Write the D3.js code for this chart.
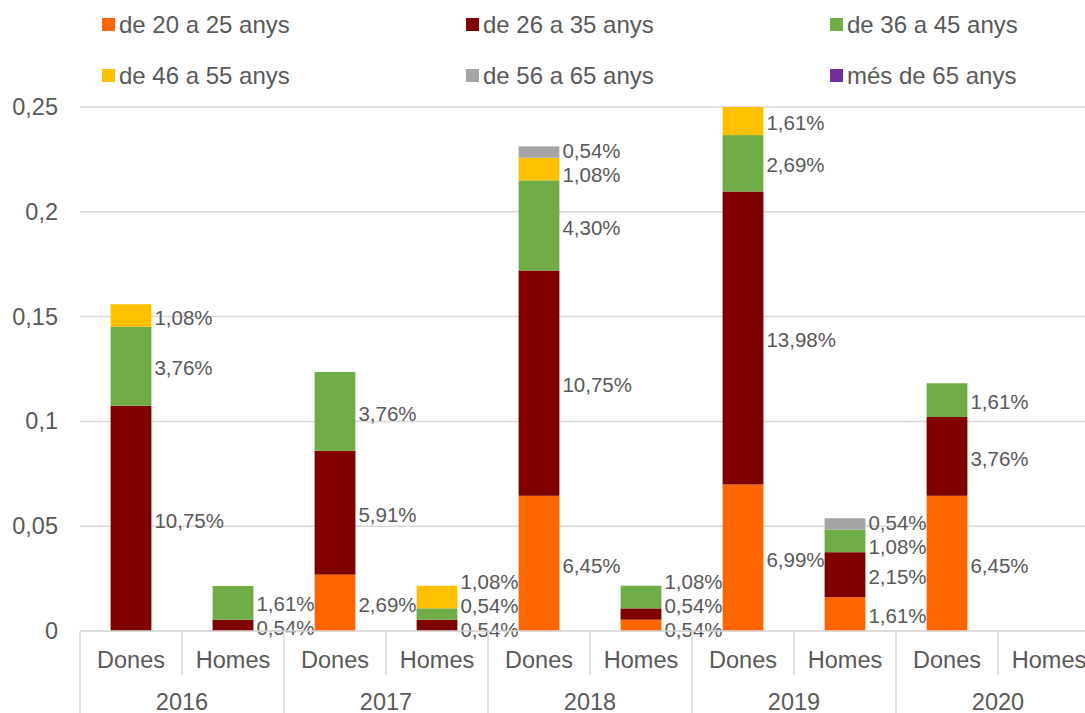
<!DOCTYPE html>
<html>
<head>
<meta charset="utf-8">
<script src="https://cdn.jsdelivr.net/npm/d3@7"></script>
<style>
  html, body { margin: 0; padding: 0; background: #fff; overflow: hidden; }
  svg { display: block; }
  text { font-family: "Liberation Sans", Arial, sans-serif; fill: #595959; }
</style>
</head>
<body>
<div id="chart-area"></div>
<script>
// Data (values in %)
const genders = ["Dones", "Homes"];
const years = ["2016", "2017", "2018", "2019", "2020"];
const ageGroups = ["de 20 a 25 anys", "de 26 a 35 anys", "de 36 a 45 anys",
                   "de 46 a 55 anys", "de 56 a 65 anys", "més de 65 anys"];
const colors = ["#FF6600", "#800000", "#70AD47", "#FFC000", "#A5A5A5", "#7030A0"];

// one value per bar: 2016 Dones, 2016 Homes, 2017 Dones, ...
const age20_25 = [0, 0, 2.69, 0, 6.45, 0.54, 6.99, 1.61, 6.45, 0];
const age26_35 = [10.75, 0.54, 5.91, 0.54, 10.75, 0.54, 13.98, 2.15, 3.76, 0];
const age36_45 = [3.76, 1.61, 3.76, 0.54, 4.30, 1.08, 2.69, 1.08, 1.61, 0];
const age46_55 = [1.08, 0, 0, 1.08, 1.08, 0, 1.61, 0, 0, 0];
const age56_65 = [0, 0, 0, 0, 0.54, 0, 0, 0.54, 0, 0];
const age65 = [0, 0, 0, 0, 0, 0, 0, 0, 0, 0];
const yTicks = [0, 0.05, 0.1, 0.15, 0.2, 0.25];

const series = [age20_25, age26_35, age36_45, age46_55, age56_65, age65];

const width = 1085;
const height = 713;
const margin = {left: 80, top: 107, right: -15, bottom: 82};

const svg = d3.select("#chart-area")
    .append("svg")
    .attr("width", width)
    .attr("height", height);

const innerWidth = width - margin.left - margin.right;
const innerHeight = height - margin.top - margin.bottom;

const g = svg.append("g")
    .attr("transform", `translate(${margin.left},${margin.top})`);

// categories
const keys = [];
years.forEach(y => genders.forEach(s => keys.push(y + "-" + s)));

const rows = keys.map((k, i) => {
    const row = {key: k};
    ageGroups.forEach((a, j) => row[a] = series[j][i] / 100);
    return row;
});

const stacked = d3.stack().keys(ageGroups)(rows);

const xSlot = d3.scaleBand().domain(keys).range([0, innerWidth]);
const xScale = d3.scaleBand().domain(keys).range([0, innerWidth])
    .paddingInner(0.6).paddingOuter(0.3);
const xYear = d3.scaleBand().domain(years).range([0, innerWidth]);

const yScale = d3.scaleLinear().domain([0, 0.25]).range([innerHeight, 0]).clamp(true);

const locale = d3.formatLocale({decimal: ",", thousands: ".", grouping: [3], currency: ["", "€"]});
const tickFmt = locale.format("~g");
const pctFmt = locale.format(".2f");

// gridlines
g.append("g").selectAll("line")
    .data(yTicks)
    .enter().append("line")
    .attr("x1", 0).attr("x2", innerWidth)
    .attr("y1", d => yScale(d)).attr("y2", d => yScale(d))
    .attr("stroke", "#D9D9D9").attr("stroke-width", 1.5);

// y axis labels
const yAxis = d3.axisLeft(yScale).tickValues(yTicks).tickFormat(tickFmt).tickSize(0).tickPadding(22);
const yAxisGroup = g.append("g").call(yAxis);
yAxisGroup.select(".domain").remove();
yAxisGroup.selectAll("text").style("font-size", "23.5px").attr("fill", "#595959");

// bars
const layers = g.append("g").selectAll("g")
    .data(stacked)
    .enter().append("g")
    .attr("fill", (d, i) => colors[i]);

layers.selectAll("rect")
    .data(d => d)
    .enter().append("rect")
    .attr("x", d => xScale(d.data.key))
    .attr("width", xScale.bandwidth())
    .attr("y", d => yScale(d[1]))
    .attr("height", d => yScale(d[0]) - yScale(d[1]));

// data labels, right of each bar, spread out when they collide
const labels = [];
keys.forEach((k, i) => {
    const list = [];
    stacked.forEach((layer, j) => {
        const v = series[j][i];
        if (v > 0) {
            const d = layer[i];
            list.push({
                x: xScale(k) + xScale.bandwidth() + 3,
                y: (yScale(d[0]) + yScale(d[1])) / 2 + 2,
                text: pctFmt(v) + "%"
            });
        }
    });
    // relax overlapping labels (list goes from bottom to top)
    const gap = 24;
    for (let it = 0; it < 50; it++) {
        for (let m = 1; m < list.length; m++) {
            const diff = list[m - 1].y - list[m].y;
            if (diff < gap) {
                const shift = (gap - diff) / 2;
                list[m - 1].y += shift;
                list[m].y -= shift;
            }
        }
        list.forEach(l => l.y = Math.min(l.y, innerHeight - 1));
    }
    list.forEach(l => labels.push(l));
});

g.append("g").selectAll("text")
    .data(labels)
    .enter().append("text")
    .attr("x", d => d.x)
    .attr("y", d => d.y)
    .attr("dy", "0.35em")
    .style("font-size", "20.5px")
    .text(d => d.text);

// x axis line and separators
g.append("line")
    .attr("x1", 0).attr("x2", innerWidth)
    .attr("y1", innerHeight).attr("y2", innerHeight)
    .attr("stroke", "#D9D9D9").attr("stroke-width", 1.5);

g.append("g").selectAll("line")
    .data(keys)
    .enter().append("line")
    .attr("x1", d => xSlot(d)).attr("x2", d => xSlot(d))
    .attr("y1", innerHeight)
    .attr("y2", (d, i) => i % 2 === 0 ? innerHeight + margin.bottom : innerHeight + 44)
    .attr("stroke", "#D9D9D9").attr("stroke-width", 1.5);

// category labels
g.append("g").selectAll("text")
    .data(keys)
    .enter().append("text")
    .attr("x", d => xSlot(d) + xSlot.bandwidth() / 2)
    .attr("y", innerHeight + 29)
    .attr("dy", "0.35em")
    .attr("text-anchor", "middle")
    .style("font-size", "23.5px")
    .text(d => d.split("-")[1]);

g.append("g").selectAll("text")
    .data(years)
    .enter().append("text")
    .attr("x", d => xYear(d) + xYear.bandwidth() / 2)
    .attr("y", innerHeight + 71)
    .attr("dy", "0.35em")
    .attr("text-anchor", "middle")
    .style("font-size", "23.5px")
    .text(d => d);

// legend
const legend = svg.append("g").selectAll("g")
    .data(ageGroups)
    .enter().append("g")
    .attr("transform", (d, i) => `translate(${102 + (i % 3) * 364},${18 + Math.floor(i / 3) * 51})`);

legend.append("rect")
    .attr("width", 13).attr("height", 13)
    .attr("fill", (d, i) => colors[i]);

legend.append("text")
    .attr("x", 17)
    .attr("y", 6.5)
    .attr("dy", "0.35em")
    .style("font-size", "24px")
    .text(d => d);
</script>
</body>
</html>
